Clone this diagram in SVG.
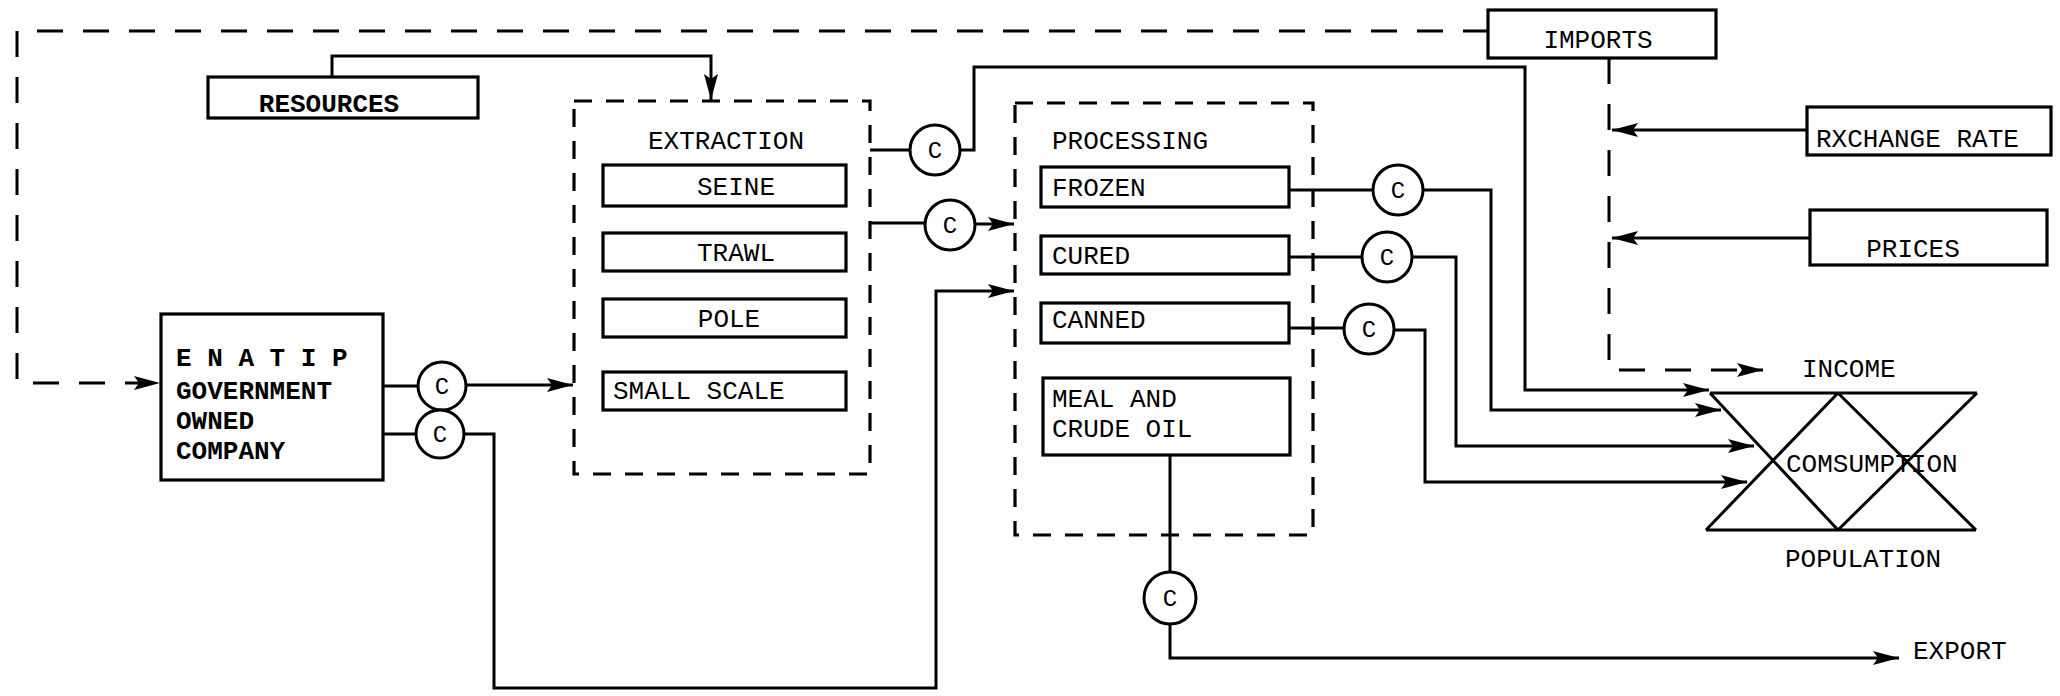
<svg xmlns="http://www.w3.org/2000/svg" width="2060" height="696" viewBox="0 0 2060 696">
<defs>
<marker id="ah" markerUnits="userSpaceOnUse" markerWidth="26" markerHeight="16" refX="26" refY="8" orient="auto">
<path d="M0,1 L26,8 L0,15 L5,8 z" fill="#000"/>
</marker>
<style>
.bg{fill:#fff}
.box{fill:none;stroke:#000;stroke-width:3.2}
.dbox{fill:none;stroke:#000;stroke-width:3.2;stroke-dasharray:18 14}
.ln{fill:none;stroke:#000;stroke-width:3}
.arr{fill:none;stroke:#000;stroke-width:3;marker-end:url(#ah)}
.dash{fill:none;stroke:#000;stroke-width:3;stroke-dasharray:26 20}
.circ{fill:#fff;stroke:#000;stroke-width:3}
.t{font-family:"Liberation Mono","DejaVu Sans Mono",monospace;font-size:26px;fill:#000}
.b{font-weight:bold}
.m{text-anchor:middle}
.c{font-family:"Liberation Mono","DejaVu Sans Mono",monospace;font-size:24px;fill:#000;text-anchor:middle}
</style>
</defs>
<rect class="bg" x="0" y="0" width="2060" height="696"/>

<g id="connectors">
<path class="dash" d="M1489,31 H17 V383 H160" marker-end="url(#ah)"/>
<path class="arr" d="M332,77 V56 H711 V100"/>
<path class="ln" d="M383,386 H418"/>
<path class="arr" d="M466,385 H573"/>
<path class="ln" d="M383,434 H416"/>
<path class="arr" d="M464,434 H494 V688 H936 V291 H1014"/>
<path class="ln" d="M870,150 H910"/>
<path class="arr" d="M960,150 H974 V67 H1525 V390 H1709"/>
<path class="ln" d="M870,223 H925"/>
<path class="arr" d="M975,224 H1014"/>
<path class="ln" d="M1289,190 H1373"/>
<path class="arr" d="M1423,190 H1491 V410 H1721"/>
<path class="ln" d="M1289,257 H1362"/>
<path class="arr" d="M1412,257 H1456 V446 H1754"/>
<path class="ln" d="M1289,328 H1344"/>
<path class="arr" d="M1394,330 H1425 V482 H1747"/>
<path class="ln" d="M1170,455 V572"/>
<path class="arr" d="M1170,624 V658 H1899"/>
<path class="dash" d="M1609,58 V370 H1763" marker-end="url(#ah)"/>
<path class="arr" d="M1807,130 H1612"/>
<path class="arr" d="M1810,238 H1612"/>
</g>

<g id="resources">
<rect class="box" x="208" y="77" width="270" height="41"/>
<text class="t b m" x="329" y="112">RESOURCES</text>
</g>

<g id="extraction">
<rect class="dbox" x="574" y="101" width="296" height="373"/>
<text class="t m" x="726" y="149">EXTRACTION</text>
</g>
<g id="seine">
<rect class="box" x="603" y="165" width="243" height="41"/>
<text class="t m" x="736" y="195">SEINE</text>
</g>
<g id="trawl">
<rect class="box" x="603" y="233" width="243" height="38"/>
<text class="t m" x="736" y="261">TRAWL</text>
</g>
<g id="pole">
<rect class="box" x="603" y="299" width="243" height="38"/>
<text class="t m" x="729" y="327">POLE</text>
</g>
<g id="small-scale">
<rect class="box" x="603" y="372" width="243" height="38"/>
<text class="t" x="613" y="399">SMALL SCALE</text>
</g>

<g id="enatip">
<rect class="box" x="161" y="314" width="222" height="166"/>
<text class="t b" x="176" y="366">E N A T I P</text>
<text class="t b" x="176" y="399">GOVERNMENT</text>
<text class="t b" x="176" y="429">OWNED</text>
<text class="t b" x="176" y="459">COMPANY</text>
</g>

<g id="c-enatip-1"><circle class="circ" cx="442" cy="386" r="24"/><text class="c" x="442" y="394">C</text></g>
<g id="c-enatip-2"><circle class="circ" cx="440" cy="434" r="24"/><text class="c" x="440" y="442">C</text></g>
<g id="c-extraction-1"><circle class="circ" cx="935" cy="150" r="25"/><text class="c" x="935" y="158">C</text></g>
<g id="c-extraction-2"><circle class="circ" cx="950" cy="225" r="25"/><text class="c" x="950" y="233">C</text></g>
<g id="c-frozen"><circle class="circ" cx="1398" cy="190" r="25"/><text class="c" x="1398" y="198">C</text></g>
<g id="c-cured"><circle class="circ" cx="1387" cy="257" r="25"/><text class="c" x="1387" y="265">C</text></g>
<g id="c-canned"><circle class="circ" cx="1369" cy="329" r="25"/><text class="c" x="1369" y="337">C</text></g>
<g id="c-meal"><circle class="circ" cx="1170" cy="598" r="26"/><text class="c" x="1170" y="606">C</text></g>

<g id="processing">
<rect class="dbox" x="1015" y="103" width="298" height="432"/>
<text class="t" x="1052" y="149">PROCESSING</text>
</g>
<g id="frozen">
<rect class="box" x="1041" y="167" width="248" height="40"/>
<text class="t" x="1052" y="196">FROZEN</text>
</g>
<g id="cured">
<rect class="box" x="1041" y="236" width="248" height="38"/>
<text class="t" x="1052" y="264">CURED</text>
</g>
<g id="canned">
<rect class="box" x="1041" y="303" width="248" height="40"/>
<text class="t" x="1052" y="328">CANNED</text>
</g>
<g id="meal">
<rect class="box" x="1043" y="378" width="247" height="77"/>
<text class="t" x="1052" y="407">MEAL AND</text>
<text class="t" x="1052" y="437">CRUDE OIL</text>
</g>

<g id="imports">
<rect class="box" x="1488" y="10" width="228" height="48"/>
<text class="t m" x="1598" y="48">IMPORTS</text>
</g>
<g id="exchange-rate">
<rect class="box" x="1807" y="107" width="244" height="48"/>
<text class="t" x="1816" y="147">RXCHANGE RATE</text>
</g>
<g id="prices">
<rect class="box" x="1810" y="210" width="237" height="55"/>
<text class="t m" x="1913" y="257">PRICES</text>
</g>

<g id="consumption">
<path class="ln" d="M1710,393 H1977 M1706,530 H1976 M1710,393 L1838,530 M1838,393 L1706,530 M1838,393 L1976,530 M1977,393 L1838,530"/>
<text class="t" x="1786" y="472">COMSUMPTION</text>
</g>
<g id="income"><text class="t" x="1802" y="377">INCOME</text></g>
<g id="population"><text class="t" x="1785" y="567">POPULATION</text></g>
<g id="export"><text class="t" x="1913" y="659">EXPORT</text></g>
</svg>
